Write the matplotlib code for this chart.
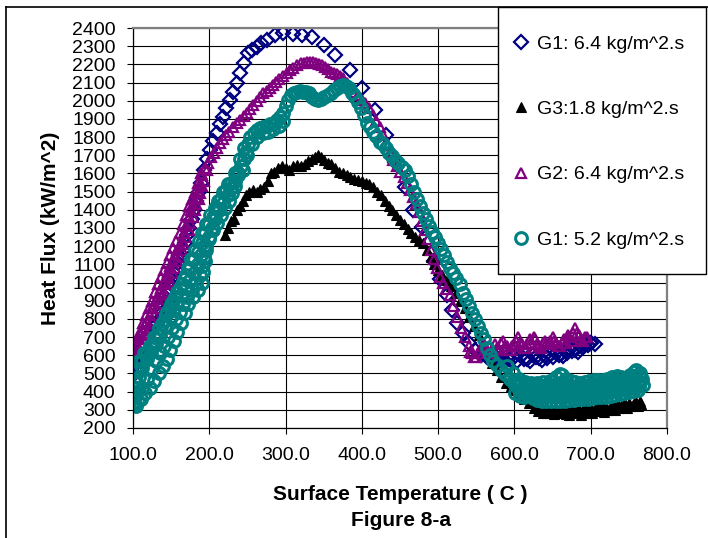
import numpy as np
import matplotlib
matplotlib.use('Agg')
import matplotlib.pyplot as plt
from matplotlib.lines import Line2D
from matplotlib.patches import Rectangle

plt.rcParams['font.family'] = ['Liberation Sans', 'DejaVu Sans']

# ---------------- data ----------------
# G1: 6.4 kg/m^2.s  (navy diamonds)
g1_64_x = [100, 101, 103, 105, 108, 111, 114, 117, 120, 123,
           126, 129, 132, 135, 138, 141, 144, 147, 150, 153,
           156, 159, 162, 165, 168, 171, 174, 177, 180, 183,
           186, 189, 193, 197, 201, 205, 210, 214, 218, 222,
           227, 231, 236, 240, 245, 251, 256, 262, 268, 275,
           286, 297, 310, 321, 334, 350, 365, 384, 400, 417,
           432, 444, 456, 467, 479, 487, 495, 503, 511, 518,
           525, 532, 540, 548, 556, 564, 572, 580, 588, 596,
           604, 612, 620, 628, 636, 643, 650, 658, 664, 669,
           676, 683, 690, 696, 701, 705,
           560, 568, 576, 584, 592, 600, 608, 616, 624, 632,
           640, 647, 654, 661, 667, 673, 679, 686, 693, 699]
g1_64_y = [490, 540, 570, 590, 610, 640, 660, 690, 710, 730,
           750, 770, 780, 800, 830, 870, 910, 950, 990, 1030,
           1070, 1110, 1140, 1180, 1220, 1260, 1300, 1350, 1400, 1450,
           1500, 1550, 1620, 1680, 1730, 1780, 1821, 1870, 1912, 1960,
           2004, 2050, 2096, 2150, 2206, 2261, 2280, 2297, 2315, 2334,
           2362, 2374, 2367, 2362, 2352, 2307, 2252, 2169, 2069, 1949,
           1812, 1665, 1526, 1400, 1306, 1217, 1120, 1020, 930, 850,
           780, 720, 670, 630, 600, 590, 580, 575, 570, 575,
           570, 580, 570, 590, 575, 585, 590, 600, 595, 615,
           625, 620, 645, 655, 665, 660,
           610, 580, 590, 570, 580, 590, 595, 580, 600, 585,
           600, 605, 615, 605, 625, 635, 630, 650, 660, 670]

# G3: 1.8 kg/m^2.s  (black filled triangles)
g3_18_x = [220, 224, 228, 232, 236, 240, 244, 248, 252, 257,
           262, 267, 272, 277, 281, 285, 290, 295, 300, 305,
           310, 315, 320, 325, 330, 334, 338, 342, 346, 350,
           355, 360, 365, 370, 375, 380, 385, 390, 395, 400,
           405, 410, 415, 420, 425, 430, 435, 440, 445, 450,
           455, 460, 465, 470, 475, 480, 485, 490, 495, 500,
           505, 511, 517, 523, 529, 535, 541, 547, 553, 559,
           565, 571, 577, 583, 589, 595, 601, 607, 613, 619,
           625, 631, 637, 642, 647, 652, 657, 662, 667, 672,
           677, 682, 687, 692, 697, 702, 707, 712, 717, 722,
           727, 732, 737, 742, 747, 752, 757, 762, 766,
           635, 640, 645, 650, 655, 660, 665, 670, 675, 680,
           685, 690, 695, 700, 705, 710, 715, 720, 725, 730,
           735, 740, 745, 750, 755, 760, 765]
g3_18_y = [1260, 1300, 1340, 1350, 1400, 1420, 1450, 1480, 1500, 1510,
           1500, 1515, 1525, 1560, 1600, 1610, 1630, 1640, 1630, 1620,
           1640, 1645, 1640, 1650, 1670, 1680, 1690, 1700, 1690, 1675,
           1660, 1650, 1630, 1610, 1600, 1590, 1580, 1570, 1565, 1560,
           1550, 1540, 1525, 1500, 1480, 1450, 1420, 1400, 1370, 1344,
           1320, 1295, 1270, 1250, 1235, 1217, 1180, 1140, 1100, 1070,
           1040, 1014, 980, 940, 900, 860, 810, 760, 710, 660,
           610, 560, 520, 480, 450, 430, 410, 385, 360, 335,
           310, 295, 285, 280, 290, 275, 285, 295, 278, 272,
           285, 298, 272, 285, 300, 280, 295, 305, 290, 300,
           318, 300, 310, 325, 310, 320, 335, 320, 330,
           300, 305, 300, 295, 305, 300, 305, 295, 305, 310,
           300, 305, 315, 310, 305, 315, 325, 315, 310, 325,
           335, 320, 330, 340, 325, 345, 350]

# G2: 6.4 kg/m^2.s  (purple open triangles)
g2_64_x = [101, 104, 107, 110, 113, 116, 119, 122, 125, 128,
           131, 134, 137, 140, 143, 146, 149, 152, 155, 158,
           161, 164, 167, 170, 173, 176, 179, 182, 185, 188,
           191, 194, 198, 202, 206, 210, 214, 218, 222, 226,
           231, 236, 240, 245, 249, 253, 257, 262, 266, 270,
           275, 279, 283, 288, 292, 297, 302, 306, 310, 315,
           320, 324, 328, 332, 336, 340, 344, 348, 352, 356,
           360, 363, 367, 371, 375, 380, 385, 390, 395, 400,
           404, 409, 414, 419, 424, 428, 432, 437, 441, 446,
           450, 455, 459, 463, 467, 471, 475, 479, 483, 487,
           491, 495, 499, 502, 506, 510, 515, 520, 525, 530,
           535, 540, 545, 550, 555, 560, 565, 570, 575, 580,
           585, 590, 595, 600, 605, 610, 615, 620, 625, 630,
           635, 640, 645, 650, 655, 660, 665, 670, 675, 680,
           685, 690, 695,
           112, 118, 125, 132, 138, 145, 152, 158, 164, 170,
           175, 181, 186, 191,
           103, 106, 109, 113, 117, 121, 125, 129, 133, 137,
           141, 145, 149, 153, 157, 161, 165, 169, 173, 177,
           181, 185, 189,
           108, 115, 121, 128, 135, 141, 148, 155, 161, 167,
           173, 178, 183, 188, 193, 197,
           542, 547, 552, 557, 562, 567, 572, 577, 582, 587,
           592, 597, 602, 607, 612, 617, 622, 627, 632, 637,
           642, 647, 652, 657, 662, 667, 672, 677, 682, 687,
           692]
g2_64_y = [630, 650, 690, 710, 740, 770, 790, 820, 860, 880,
           910, 940, 970, 1000, 1030, 1060, 1090, 1120, 1150, 1180,
           1200, 1230, 1270, 1310, 1360, 1400, 1430, 1470, 1500, 1540,
           1590, 1630, 1660, 1690, 1710, 1740, 1768, 1790, 1810, 1830,
           1856, 1880, 1895, 1915, 1933, 1955, 1975, 2000, 2021, 2040,
           2055, 2070, 2087, 2105, 2120, 2135, 2153, 2170, 2180, 2197,
           2205, 2210, 2213, 2215, 2213, 2208, 2203, 2197, 2185, 2175,
           2160, 2153, 2145, 2135, 2125, 2100, 2075, 2050, 2030, 2005,
           1988, 1960, 1920, 1890, 1856, 1810, 1770, 1720, 1674, 1640,
           1610, 1580, 1550, 1510, 1470, 1430, 1390, 1340, 1290, 1240,
           1180, 1130, 1080, 1030, 1000, 965, 930, 870, 810, 750,
           700, 650, 610, 590, 630, 660, 620, 610, 660, 630,
           680, 650, 630, 660, 700, 660, 640, 690, 700, 660,
           640, 680, 660, 700, 670, 650, 690, 710, 680, 750,
           710, 680, 700,
           660, 720, 790, 860, 930, 990, 1050, 1120, 1180, 1250,
           1330, 1400, 1460, 1530,
           660, 700, 730, 780, 820, 860, 900, 950, 990, 1030,
           1070, 1110, 1150, 1190, 1230, 1270, 1320, 1370, 1420, 1460,
           1500, 1550, 1600,
           640, 690, 750, 820, 890, 950, 1010, 1080, 1140, 1210,
           1290, 1360, 1430, 1490, 1560, 1620,
           620, 590, 610, 650, 640, 650, 630, 640, 670, 650,
           630, 650, 680, 670, 640, 660, 670, 690, 650, 670,
           660, 680, 680, 650, 670, 670, 700, 720, 720, 690,
           700]

# G1: 5.2 kg/m^2.s  (teal open circles)
g1_52_x = [100, 101, 101, 103, 108, 115, 122, 128, 134, 140,
           145, 150, 155, 161, 167, 172, 176, 181, 186, 191,
           196, 201, 207, 212, 218, 224,
           102, 105, 108, 112, 118, 124, 130, 136, 142, 148,
           153, 158, 163, 168, 174, 180, 185, 189, 193,
           104, 110, 116, 122, 128, 134, 139, 144, 149, 154,
           158, 163, 168, 172, 178, 185, 190, 192, 194, 196,
           200, 205, 210, 215, 220, 226, 230, 234,
           106, 112, 118, 124, 130, 136, 141, 146, 151, 156,
           161, 166, 171, 177, 183, 188, 191, 193, 196, 199,
           203, 208, 213, 218, 224, 229, 234, 238,
           102, 104, 107, 112, 119, 126, 132, 138, 143, 148,
           153, 158, 164, 169, 175, 180, 185, 190, 195, 200,
           205, 210, 216, 222, 228, 234,
           236, 240, 244, 246, 250, 256, 263, 270, 277, 284,
           291, 296,
           238, 242, 245, 248, 251, 254, 258, 262, 266, 270,
           275, 280, 285, 289, 293, 297, 300, 303, 307, 311,
           315, 319, 323, 327, 331, 335, 339, 343, 347, 351,
           355, 359, 363, 367, 371, 375, 379, 383, 387, 391,
           395, 399, 403, 407, 411, 415, 419, 424, 428, 432,
           436, 440, 444, 448, 452, 456, 460, 464, 468, 472,
           476, 480, 484, 488, 492, 496, 500, 504, 508, 512,
           516, 520, 524, 528, 532, 536, 540, 544, 548, 552,
           556, 560, 564, 568, 572, 577, 582, 588, 594, 600,
           606, 612, 618, 624, 630, 636, 642, 648, 654, 660,
           666, 672, 678, 684, 690, 696, 702, 708, 714, 720,
           726, 732, 738, 744, 750, 756, 762,
           590, 598, 606, 614, 622, 630, 638, 646, 654, 660,
           663, 668, 674, 680, 686, 692, 698, 704, 710, 716,
           722, 728, 734, 740, 746, 752, 757, 760, 764, 767,
           604, 612, 620, 628, 636, 644, 652, 660, 668, 676,
           684, 692, 700, 708, 716, 724, 732, 740, 748, 756,
           764,
           603, 609, 615, 621, 627, 633, 639, 645, 651, 657,
           663, 669, 675, 681, 687, 693, 699, 705, 711, 717,
           723, 729, 735, 741, 747, 753, 759, 765,
           601, 607, 613, 619, 625, 631, 637, 643, 649, 655,
           661, 667, 673, 679, 685, 691, 697, 703, 709, 715,
           721, 727, 733, 739, 745, 751, 757, 763, 768]
g1_52_y = [340, 400, 460, 520, 570, 610, 650, 700, 750, 790,
           840, 880, 920, 970, 1020, 1080, 1130, 1180, 1230, 1270,
           1320, 1370, 1410, 1450, 1500, 1540,
           330, 420, 480, 530, 580, 620, 660, 710, 760, 810,
           850, 890, 930, 970, 1010, 1050, 1100, 1150, 1200,
           320, 360, 390, 420, 460, 500, 540, 580, 630, 680,
           730, 780, 830, 880, 920, 960, 1000, 1060, 1120, 1180,
           1240, 1290, 1330, 1370, 1410, 1450, 1490, 1530,
           350, 420, 470, 520, 570, 610, 650, 700, 750, 800,
           840, 880, 920, 960, 1000, 1040, 1090, 1140, 1200, 1250,
           1300, 1350, 1400, 1440, 1480, 1520, 1560, 1590,
           370, 450, 520, 570, 610, 660, 710, 770, 820, 860,
           900, 950, 990, 1040, 1080, 1130, 1170, 1220, 1270, 1320,
           1360, 1410, 1460, 1510, 1550, 1600,
           1610, 1680, 1620, 1740, 1700, 1760, 1800, 1820, 1830, 1845,
           1860, 1890,
           1600, 1640, 1680, 1720, 1760, 1800, 1825, 1840, 1848, 1856,
           1862, 1870, 1880, 1894, 1910, 1933, 1970, 2004, 2030, 2042,
           2048, 2052, 2050, 2048, 2040, 2020, 2008, 2004, 2010, 2020,
           2032, 2045, 2058, 2070, 2080, 2087, 2082, 2068, 2045, 2020,
           1995, 1960, 1920, 1880, 1856, 1830, 1805, 1775, 1760, 1740,
           1715, 1695, 1675, 1655, 1635, 1620, 1585, 1540, 1500, 1460,
           1420, 1383, 1350, 1310, 1280, 1250, 1220, 1185, 1150, 1115,
           1080, 1053, 1025, 990, 942, 910, 870, 833, 800, 760,
           723, 690, 640, 600, 570, 545, 520, 495, 470, 445,
           410, 390, 375, 365, 355, 350, 348, 350, 350, 348,
           350, 352, 355, 358, 360, 362, 365, 368, 370, 372,
           376, 380, 385, 390, 396, 402, 408,
           540, 500, 470, 455, 445, 450, 455, 460, 480, 495,
           494, 470, 460, 455, 450, 455, 460, 465, 466, 465,
           470, 480, 485, 480, 475, 490, 510, 521, 500, 470,
           440, 420, 410, 405, 400, 400, 405, 410, 400, 400,
           405, 410, 412, 415, 415, 420, 428, 435, 440, 445,
           455,
           460, 440, 430, 425, 430, 432, 430, 428, 435, 440,
           455, 435, 428, 425, 428, 432, 436, 440, 440, 445,
           450, 458, 462, 460, 462, 470, 478, 485,
           390, 375, 370, 375, 378, 375, 372, 375, 378, 375,
           372, 375, 378, 382, 380, 384, 386, 390, 392, 395,
           398, 402, 406, 410, 415, 420, 425, 430, 435]

series_labels = ['G1: 6.4 kg/m^2.s', 'G3:1.8 kg/m^2.s',
                 'G2: 6.4 kg/m^2.s', 'G1: 5.2 kg/m^2.s']
x_ticks = [100, 200, 300, 400, 500, 600, 700, 800]
y_ticks = list(range(200, 2401, 100))

# ---------------- figure ----------------
W, H = 708, 538
fig = plt.figure(figsize=(W / 100, H / 100), dpi=100)
ax = fig.add_axes([133 / W, 1 - 428 / H, 534 / W, 400 / H])

h1, = ax.plot(g1_64_x, g1_64_y, linestyle='none', marker='D', ms=7,
              mfc='none', mec='#000080', mew=1.6, label=series_labels[0])
h2, = ax.plot(g3_18_x, g3_18_y, linestyle='none', marker='^', ms=6.5,
              mfc='black', mec='black', mew=0.8, label=series_labels[1])
h3, = ax.plot(g2_64_x, g2_64_y, linestyle='none', marker='^', ms=7.5,
              mfc='none', mec='#800080', mew=1.6, label=series_labels[2])
h4, = ax.plot(g1_52_x, g1_52_y, linestyle='none', marker='o', ms=8.5,
              mfc='none', mec='#008080', mew=2.2, label=series_labels[3])

ax.set_xlim(100, 800)
ax.set_ylim(200, 2400)
ax.set_xticks(x_ticks)
ax.set_xticklabels([f'{v:.1f}' for v in x_ticks])
ax.set_yticks(y_ticks)
ax.set_yticklabels([str(v) for v in y_ticks])
ax.tick_params(axis='both', direction='out', length=4.5, width=0.8,
               labelsize=14, colors='black')
ax.tick_params(axis='x', pad=9)
ax.tick_params(axis='y', pad=8)

ax.grid(True, color='black', linewidth=0.8)
ax.set_axisbelow(True)
for side in ['left', 'bottom']:
    ax.spines[side].set_color('black')
    ax.spines[side].set_linewidth(0.9)
for side in ['top', 'right']:
    ax.spines[side].set_color('#808080')
    ax.spines[side].set_linewidth(1.6)

ax.set_xlabel('Surface Temperature ( C )', fontsize=15, fontweight='bold',
              labelpad=15.5)
ax.set_ylabel('Heat Flux (kW/m^2)', fontsize=15, fontweight='bold',
              labelpad=9)
fig.text(401 / W, 1 - 520 / H, 'Figure 8-a', fontsize=15, fontweight='bold',
         ha='center', va='center')

# chart border (only left/top visible in the original crop)
fig.add_artist(Line2D([6 / W, 6 / W], [0, 1 - 7 / H], color='black', lw=1.2))
fig.add_artist(Line2D([6 / W, 1], [1 - 7 / H, 1 - 7 / H], color='black', lw=1.2))

# legend box
fig.add_artist(Rectangle((498 / W, 1 - 274 / H), 208 / W, 267 / H,
                         transform=fig.transFigure, facecolor='white',
                         edgecolor='black', lw=1.0))
fig.legend(handles=[h1, h2, h3, h4], loc='upper left',
           bbox_to_anchor=(511 / W, 1 - 35 / H), frameon=False, fontsize=14,
           handlelength=1.0, handletextpad=0.35, labelspacing=2.46,
           borderpad=0, borderaxespad=0, numpoints=1)

fig.savefig('out.png', dpi=100)
